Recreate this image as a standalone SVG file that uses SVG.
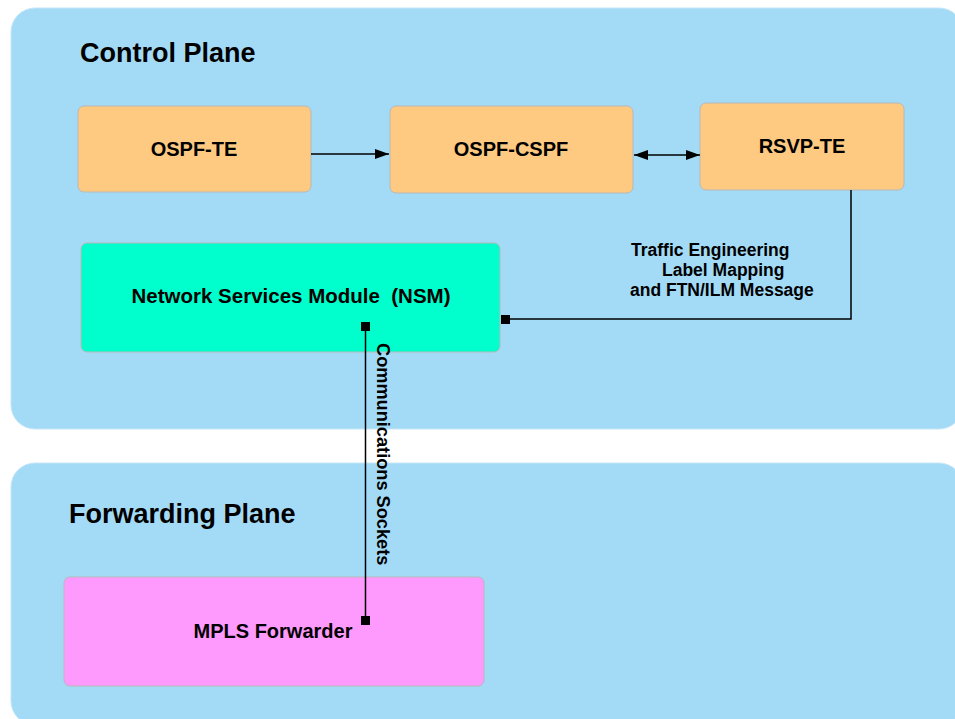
<svg xmlns="http://www.w3.org/2000/svg" width="955" height="719" viewBox="0 0 955 719">
<style>
.plane{fill:#a3dbf7;stroke:#c6e6f7;stroke-width:1}
.box{stroke:#b8b8b8;stroke-width:1}
.orange{fill:#fec980}
.teal{fill:#00ffcc}
.pink{fill:#fe9afe}
text{font-family:"Liberation Sans",Arial,sans-serif;font-weight:bold;fill:#000}
.title{font-size:27px}
.lbl{font-size:20px;text-anchor:middle}
.small{font-size:17.5px}
.conn{fill:none;stroke:#000;stroke-width:1.5}
</style>
<defs>
<marker id="arrow" viewBox="0 0 14 12" refX="14" refY="6" markerWidth="14" markerHeight="12" markerUnits="userSpaceOnUse" orient="auto-start-reverse">
<path d="M0,1 L14,6 L0,11 z" fill="#000"/>
</marker>
</defs>
<g id="control-plane">
<rect class="plane" x="11" y="8" width="952" height="421" rx="24"/>
<text class="title" x="80" y="62">Control Plane</text>
</g>
<g id="forwarding-plane">
<rect class="plane" x="11" y="463" width="952" height="262" rx="24"/>
<text class="title" x="69" y="523">Forwarding Plane</text>
</g>
<g id="ospf-te">
<rect class="box orange" x="78" y="106" width="233" height="86" rx="6"/>
<text class="lbl" x="194" y="156">OSPF-TE</text>
</g>
<g id="ospf-cspf">
<rect class="box orange" x="390" y="106" width="243" height="87" rx="6"/>
<text class="lbl" x="511" y="156">OSPF-CSPF</text>
</g>
<g id="rsvp-te">
<rect class="box orange" x="700" y="103" width="204" height="87" rx="6"/>
<text class="lbl" x="802" y="153">RSVP-TE</text>
</g>
<g id="nsm">
<rect class="box teal" x="81" y="243" width="419" height="109" rx="6"/>
<text class="lbl" x="291" y="303" style="white-space:pre;font-size:20.5px">Network Services Module  (NSM)</text>
</g>
<g id="mpls-forwarder">
<rect class="box pink" x="64" y="577" width="420" height="109" rx="6"/>
<text class="lbl" x="273" y="638">MPLS Forwarder</text>
</g>
<g id="connectors">
<line class="conn" x1="311" y1="154" x2="389" y2="154" marker-end="url(#arrow)"/>
<line class="conn" x1="634" y1="155" x2="700" y2="155" marker-start="url(#arrow)" marker-end="url(#arrow)"/>
<polyline class="conn" points="851,190 851,319 505,319"/>
<rect x="501" y="315" width="9" height="9" fill="#000"/>
<line class="conn" x1="365.5" y1="327" x2="365.5" y2="620"/>
<rect x="361" y="322" width="9" height="9" fill="#000"/>
<rect x="361" y="616" width="9" height="9" fill="#000"/>
<text class="small" x="631" y="256">Traffic Engineering</text>
<text class="small" x="662" y="276">Label Mapping</text>
<text class="small" x="630" y="296">and FTN/ILM Message</text>
<text class="small" transform="translate(377,343) rotate(90)" style="font-size:18.2px">Communications Sockets</text>
</g>
</svg>
